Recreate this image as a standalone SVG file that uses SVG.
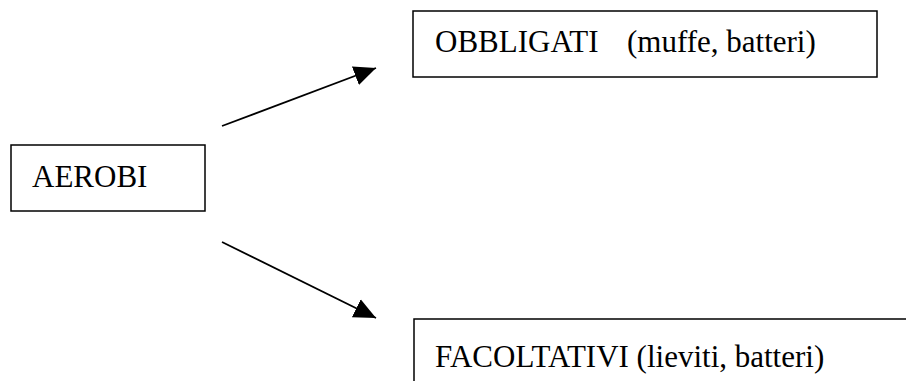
<svg xmlns="http://www.w3.org/2000/svg" width="906" height="381" viewBox="0 0 906 381">
<style>
.box{fill:#fff;stroke:#000;stroke-width:1.5}
.t{font-family:"Liberation Serif","Times New Roman",serif;font-size:31px;fill:#000}
.c{stroke:#000;stroke-width:1.8;fill:none}
</style>
<defs>
<marker id="ah" markerUnits="userSpaceOnUse" markerWidth="24" markerHeight="22" refX="22" refY="10" orient="auto" viewBox="0 0 24 20">
<path d="M0,0 L22,10 L0,20 Z" fill="#000"/>
</marker>
</defs>
<rect width="906" height="381" fill="#fff"/>
<g id="aerobi">
<rect class="box" x="11" y="145" width="194" height="66"/>
<text class="t" x="32" y="187">AEROBI</text>
</g>
<g id="obbligati">
<rect class="box" x="413" y="11" width="464" height="66"/>
<text class="t" x="435" y="52">OBBLIGATI</text>
<text class="t" x="627" y="52">(muffe, batteri)</text>
</g>
<g id="facoltativi">
<rect class="box" x="414" y="319" width="500" height="80"/>
<text class="t" x="435" y="367">FACOLTATIVI (lieviti, batteri)</text>
</g>
<g id="connectors">
<line class="c" x1="222" y1="126" x2="376" y2="68" marker-end="url(#ah)"/>
<line class="c" x1="222" y1="242" x2="376" y2="318" marker-end="url(#ah)"/>
</g>
</svg>
